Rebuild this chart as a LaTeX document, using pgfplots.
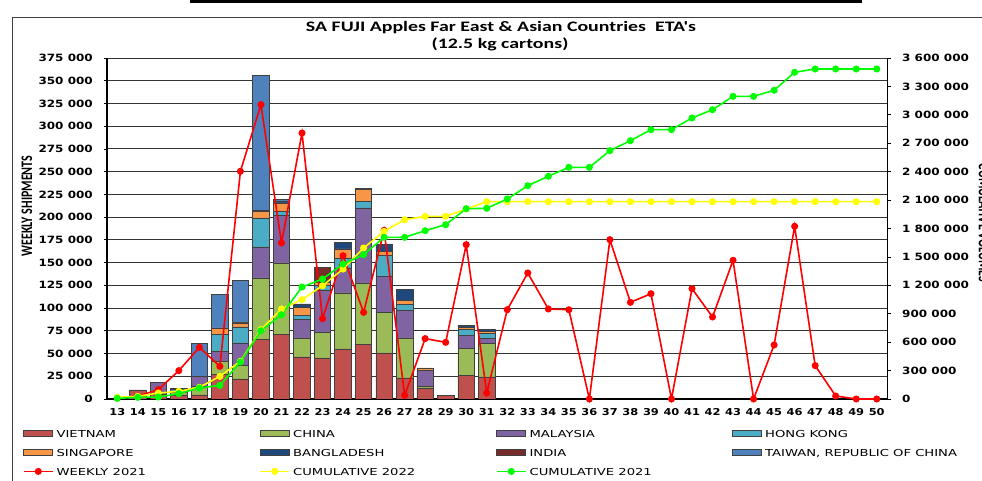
\documentclass[border=0pt]{standalone}
\usepackage{pgfplots}
\pgfplotsset{compat=1.18}
\usepackage{pgfplotstable}
\usepackage{graphicx}
\usepackage{fontspec}
\setmainfont{DejaVu Sans}
\newfontfamily\tickfont[FakeStretch=1.2]{DejaVu Sans Bold}
\newfontfamily\legfont[FakeStretch=1.37]{DejaVu Sans}
\newfontfamily\titlefont[FakeStretch=1.37]{Carlito}
\newfontfamily\labfont{Carlito}

\definecolor{cVN}{HTML}{C0504D}
\definecolor{cCN}{HTML}{9BBB59}
\definecolor{cMY}{HTML}{8064A2}
\definecolor{cHK}{HTML}{4BACC6}
\definecolor{cSG}{HTML}{F79646}
\definecolor{cBD}{HTML}{1F497D}
\definecolor{cIN}{HTML}{772C2A}
\definecolor{cTW}{HTML}{4F81BD}
\definecolor{cYel}{HTML}{FFFF00}
\definecolor{cGrn}{HTML}{00FF00}
\definecolor{cRed}{HTML}{FF0000}

\pgfplotstableread{
week VN CN MY HK SG BD IN TW
13 0 0 0 0 0 0 0 0
14 10000 0 0 0 0 0 0 0
15 5500 0 12500 0 0 0 0 0
16 4400 3300 0 2500 0 1500 0 0
17 4400 9200 11000 0 0 0 0 36700
18 26800 14700 11000 18300 7300 0 0 36700
19 22000 14700 25000 17600 4400 800 0 45800
20 65300 67800 34100 31900 7300 1100 0 148100
21 70800 78800 52000 4800 9200 1500 0 2100
22 46200 20900 20200 4800 8800 3700 0 0
23 45100 28200 45800 5800 3000 3000 13900 0
24 55000 61600 27500 11000 9900 7300 0 0
25 59800 67800 82500 7300 12800 1800 0 0
26 50600 44700 39600 22700 4800 8000 0 0
27 23100 44000 30400 6200 4800 11700 0 0
28 12100 1800 17600 0 2600 0 0 0
29 3700 0 0 0 0 0 0 0
30 26000 29300 15000 6600 2000 2000 0 0
31 24200 36700 5900 5100 2200 2600 0 0
}\bars

\pgfplotstableread{
week weekly cum22 cum21
13 1000 17600 7000
14 3000 28000 17600
15 10300 63000 21000
16 31200 81000 56300
17 56800 123000 116000
18 35900 239000 144000
19 250400 398000 390600
20 323700 732000 721000
21 171600 950000 890000
22 292500 1049000 1182000
23 88400 1196000 1267000
24 157600 1372000 1425000
25 95300 1594000 1524000
26 185500 1770000 1707000
27 4000 1893000 1707000
28 66400 1928000 1777000
29 62300 1928000 1840000
30 169700 2006000 2009000
31 6600 2083000 2013000
32 98200 2083000 2111000
33 138600 2083000 2252000
34 99000 2083000 2351000
35 98200 2083000 2446000
36 0 2083000 2446000
37 175200 2083000 2622000
38 106300 2083000 2727000
39 115800 2083000 2843000
40 0 2083000 2843000
41 121300 2083000 2967000
42 90200 2083000 3054000
43 152500 2083000 3195000
44 0 2083000 3195000
45 59400 2083000 3259000
46 189900 2083000 3449000
47 36700 2083000 3484000
48 3300 2083000 3484000
49 0 2083000 3484000
50 0 2083000 3484000
}\lines

\pgfplotsset{
  legbar/.style={legend image code/.code={\draw[##1] (0pt,-3pt) rectangle (29pt,3pt);}},
  legline/.style={legend image code/.code={\draw[mark repeat=2, mark phase=2, ##1] plot coordinates {(0pt,0pt) (14.5pt,0pt) (29pt,0pt)};}},
  barsty/.style={fill=#1, draw=black!75, line width=0.7pt},
  linesty/.style={color=#1, line width=1.6pt, mark=*, mark size=2.7pt, mark options={solid, fill=#1, draw=#1}},
}
\newcommand\lt[1]{\makebox[205.9pt][l]{\hspace{3pt}#1}}

\begin{document}
\begin{tikzpicture}[x=1pt,y=1pt]
\useasboundingbox (0,0) rectangle (982,481);
\clip (0,0) rectangle (982,481);
\fill[white] (0,0) rectangle (982,481);
% frame
\fill[black] (190,478) rectangle (862,481);
\draw[black!75, line width=1pt] (12,0) -- (12,463) -- (982,463);

% titles
\node[font=\titlefont\bfseries\fontsize{14.5}{16}\selectfont] at (501,453) {SA FUJI Apples Far East \& Asian Countries\ \ ETA{\char39}s};
\node[font=\titlefont\bfseries\fontsize{14.5}{16}\selectfont] at (500,437) {(12.5 kg cartons)};
\node[rotate=90, font=\labfont\bfseries\fontsize{12}{14}\selectfont] at (27,275) {\scalebox{1}[1.34]{WEEKLY SHIPMENTS}};
\node[rotate=-90, font=\labfont\bfseries\fontsize{12}{14}\selectfont] at (984,258) {\scalebox{1}[1.34]{CUMULATIVE VOLUMES}};

% axis 1: bars
\begin{axis}[
  at={(107pt,82pt)}, anchor=south west,
  scale only axis, width=780pt, height=341pt,
  xmin=12.5, xmax=50.5, ymin=0, ymax=375000,
  ybar stacked, bar width=16.5pt,
  xtick={13,...,50},
  ytick={0,25000,...,375000},
  scaled y ticks=false,
  axis x line*=bottom, axis y line*=left,
  axis line style={-, black, line width=1.3pt},
  ymajorgrids, grid style={black!80, line width=0.9pt},
  tick align=outside, major tick length=3pt,
  xtick style={draw=none},
  ytick style={black, line width=0.8pt},
  /pgf/number format/assume math mode=true,
  yticklabel style={font=\tickfont\fontsize{10}{12}\selectfont, /pgf/number format/fixed, /pgf/number format/precision=0, /pgf/number format/1000 sep={\ }, inner sep=0pt, anchor=east, xshift=-11pt},
  xticklabel style={font=\tickfont\fontsize{9.5}{11}\selectfont, inner sep=0pt, anchor=north, yshift=-6pt},
]
\addplot[barsty=cVN] table[x=week, y=VN] {\bars};
\addplot[barsty=cCN] table[x=week, y=CN] {\bars};
\addplot[barsty=cMY] table[x=week, y=MY] {\bars};
\addplot[barsty=cHK] table[x=week, y=HK] {\bars};
\addplot[barsty=cSG] table[x=week, y=SG] {\bars};
\addplot[barsty=cBD] table[x=week, y=BD] {\bars};
\addplot[barsty=cIN] table[x=week, y=IN] {\bars};
\addplot[barsty=cTW] table[x=week, y=TW] {\bars};
\end{axis}

% axis 2: weekly 2021 (left scale)
\begin{axis}[
  at={(107pt,82pt)}, anchor=south west,
  scale only axis, width=780pt, height=341pt,
  xmin=12.5, xmax=50.5, ymin=0, ymax=375000,
  hide axis, clip=false,
]
\addplot[linesty=cRed] table[x=week, y=weekly] {\lines};
\end{axis}

% axis 3: cumulative (right scale) + legend
\begin{axis}[
  at={(107pt,82pt)}, anchor=south west,
  scale only axis, width=780pt, height=341pt,
  xmin=12.5, xmax=50.5, ymin=0, ymax=3600000,
  axis x line=none, axis y line*=right,
  axis line style={-, black, line width=1pt},
  ytick={0,300000,...,3600000},
  scaled y ticks=false, clip=false,
  tick align=outside, major tick length=4pt,
  ytick style={black, line width=0.8pt},
  /pgf/number format/assume math mode=true,
  yticklabel style={font=\tickfont\fontsize{10}{12}\selectfont, /pgf/number format/fixed, /pgf/number format/precision=0, /pgf/number format/1000 sep={\ }, inner sep=0pt, anchor=west, xshift=11pt},
  legend style={at={(-0.1077,-0.073)}, anchor=north west, draw=none, fill=none,
    inner sep=0pt, outer sep=0pt, column sep=0pt, row sep=0pt,
    nodes={inner sep=0pt, outer sep=0pt, text height=13.5pt, text depth=5.5pt}, cells={anchor=west},
    font=\legfont\fontsize{9.6}{11}\selectfont},
  legend columns=4,
]
\addlegendimage{legbar, barsty=cVN}\addlegendentry{\lt{VIETNAM}}
\addlegendimage{legbar, barsty=cCN}\addlegendentry{\lt{CHINA}}
\addlegendimage{legbar, barsty=cMY}\addlegendentry{\lt{MALAYSIA}}
\addlegendimage{legbar, barsty=cHK}\addlegendentry{\lt{HONG KONG}}
\addlegendimage{legbar, barsty=cSG}\addlegendentry{\lt{SINGAPORE}}
\addlegendimage{legbar, barsty=cBD}\addlegendentry{\lt{BANGLADESH}}
\addlegendimage{legbar, barsty=cIN}\addlegendentry{\lt{INDIA}}
\addlegendimage{legbar, barsty=cTW}\addlegendentry{\lt{TAIWAN, REPUBLIC OF CHINA}}
\addlegendimage{legline, linesty=cRed}\addlegendentry{\lt{WEEKLY 2021}}
\addplot[legline, linesty=cYel] table[x=week, y=cum22] {\lines};
\addlegendentry{\lt{CUMULATIVE 2022}}
\addplot[legline, linesty=cGrn] table[x=week, y=cum21] {\lines};
\addlegendentry{\lt{CUMULATIVE 2021}}
\end{axis}
\end{tikzpicture}
\end{document}
